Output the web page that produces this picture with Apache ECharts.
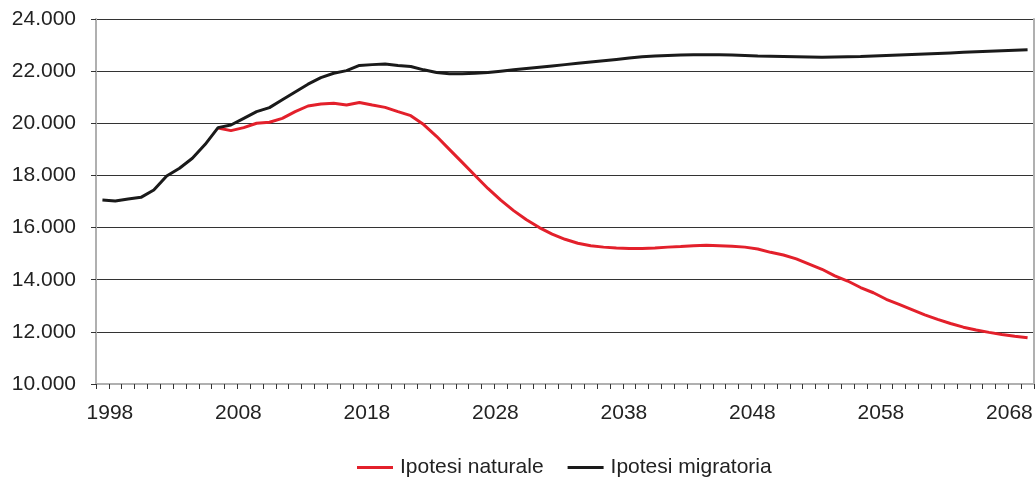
<!DOCTYPE html>
<html>
<head>
<meta charset="utf-8">
<script src="https://cdn.jsdelivr.net/npm/echarts@6/dist/echarts.min.js"></script>
<style>html,body{margin:0;padding:0;background:#fff}#c{width:1036px;height:481px}</style>
</head>
<body>
<div id="c"></div>
<script>
const years = [];
for (let y = 1998; y <= 2070; y++) years.push(String(y));

const migratoria = [
  17058, 17020, 17096, 17160, 17440, 17979, 18274, 18657, 19194, 19833,
  19935, 20190, 20445, 20600, 20900, 21200, 21500, 21750, 21920, 22020,
  22220, 22250, 22270, 22220, 22180, 22050, 21950, 21900, 21900, 21920,
  21950, 22000, 22050, 22100, 22150, 22200, 22250, 22300, 22350, 22400,
  22450, 22500, 22550, 22580, 22600, 22620, 22630, 22630, 22630, 22620,
  22600, 22580, 22570, 22560, 22550, 22540, 22530, 22540, 22550, 22560,
  22580, 22600, 22620, 22640, 22660, 22680, 22700, 22720, 22740, 22760,
  22780, 22800, 22820
];

const naturale = [
  null, null, null, null, null, null, null, null, null, 19818,
  19718, 19833, 20000, 20038, 20190, 20445, 20663, 20740, 20765, 20700,
  20800, 20700, 20610, 20445, 20293, 19950, 19500, 19000, 18500, 18000,
  17500, 17050, 16650, 16300, 16000, 15750, 15550, 15400, 15300, 15250,
  15220, 15200, 15200, 15220, 15250, 15270, 15300, 15320, 15300, 15280,
  15250, 15180, 15050, 14950, 14800, 14600, 14400, 14150, 13950, 13700,
  13500, 13250, 13050, 12850, 12650, 12480, 12320, 12180, 12070, 11980,
  11900, 11830, 11770
];

const yTicks = { min: 10000, max: 24000, interval: 2000 };
const labelYears = ['1998','2008','2018','2028','2038','2048','2058','2068'];

const fmt = v => String(v).replace(/\B(?=(\d{3})+(?!\d))/g, '.');
const font = 'Liberation Sans, Arial, Helvetica, sans-serif';

const chart = echarts.init(document.getElementById('c'), null, { renderer: 'canvas' });
chart.setOption({
  animation: false,
  grid: { left: 96, right: 2, top: 19, bottom: 97, containLabel: false },
  legend: {
    bottom: -2,
    left: 352,
    icon: 'rect',
    itemWidth: 36,
    itemHeight: 3,
    itemGap: 24,
    textStyle: { fontFamily: font, fontSize: 21, color: '#222', padding: [0, 0, 0, 2] },
    data: ['Ipotesi naturale', 'Ipotesi migratoria']
  },
  xAxis: {
    type: 'category',
    data: years,
    boundaryGap: true,
    axisLine: { lineStyle: { color: '#b0b0b0', width: 2 } },
    axisTick: { show: true, interval: 0, length: 5, lineStyle: { color: '#333', width: 1 } },
    axisLabel: {
      interval: (i, v) => labelYears.includes(v),
      fontFamily: font, fontSize: 21, color: '#222', margin: 19,
      padding: [0, 0, 0, 15]
    },
    splitLine: { show: false }
  },
  yAxis: [{
    type: 'value',
    min: yTicks.min, max: yTicks.max, interval: yTicks.interval,
    axisLine: { show: true, lineStyle: { color: '#b0b0b0', width: 2 } },
    axisTick: { show: true, length: 5, lineStyle: { color: '#333' } },
    axisLabel: { formatter: fmt, fontFamily: font, fontSize: 21, color: '#222', margin: 20 },
    splitLine: { show: true, lineStyle: { color: '#333', width: 1 } }
  }, {
    type: 'value', position: 'right',
    min: yTicks.min, max: yTicks.max, interval: yTicks.interval,
    axisLine: { show: true, lineStyle: { color: '#b0b0b0', width: 2 } },
    axisTick: { show: false }, axisLabel: { show: false }, splitLine: { show: false }
  }],
  series: [
    {
      name: 'Ipotesi naturale', type: 'line', data: naturale,
      symbol: 'none', smooth: false, z: 2,
      lineStyle: { color: '#e3202b', width: 3 },
      itemStyle: { color: '#e3202b' }
    },
    {
      name: 'Ipotesi migratoria', type: 'line', data: migratoria,
      symbol: 'none', smooth: false, z: 3,
      lineStyle: { color: '#1a1a1a', width: 3 },
      itemStyle: { color: '#1a1a1a' }
    }
  ]
});
</script>
</body>
</html>
